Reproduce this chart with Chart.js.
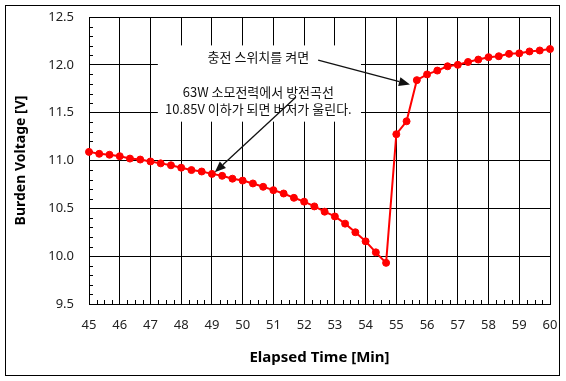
<!DOCTYPE html>
<html>
<head>
<meta charset="utf-8">
<script src="https://cdn.jsdelivr.net/npm/chart.js@4/dist/chart.umd.min.js"></script>
<style>
html,body{margin:0;padding:0;background:#fff;}
canvas{display:block;}
</style>
</head>
<body>
<canvas id="c" width="566" height="381"></canvas>
<script>
// Elapsed time [min] of each sample
const times = [45, 45.333, 45.667, 46, 46.333, 46.667, 47, 47.333, 47.667, 48, 48.333, 48.667,
  49, 49.333, 49.667, 50, 50.333, 50.667, 51, 51.333, 51.667, 52, 52.333, 52.667,
  53, 53.333, 53.667, 54, 54.333, 54.667, 55, 55.333, 55.667, 56, 56.333, 56.667,
  57, 57.333, 57.667, 58, 58.333, 58.667, 59, 59.333, 59.667, 60];
// Burden voltage [V]
const voltages = [11.09, 11.07, 11.06, 11.045, 11.02, 11.01, 10.99, 10.97, 10.95, 10.925, 10.90, 10.885,
  10.86, 10.84, 10.81, 10.79, 10.76, 10.725, 10.69, 10.655, 10.61, 10.57, 10.52, 10.465,
  10.415, 10.34, 10.25, 10.155, 10.04, 9.93, 11.275, 11.41, 11.84, 11.90, 11.94, 11.985,
  12.00, 12.03, 12.055, 12.08, 12.09, 12.115, 12.12, 12.14, 12.15, 12.165];

const xTitle = 'Elapsed Time [Min]';
const yTitle = 'Burden Voltage [V]';
const noteSwitch = '충전 스위치를 켜면';
const noteCurve = ['63W 소모전력에서 방전곡선', '10.85V 이하가 되면 버저가 울린다.'];

const annoPlugin = {
  id: 'anno',
  beforeDatasetsDraw(chart) {
    const {ctx, scales: {x, y}} = chart;
    ctx.save();
    // white label background over the grid
    const bx0 = x.getPixelForValue(47.24), bx1 = x.getPixelForValue(53.85);
    const by0 = y.getPixelForValue(12.203), by1 = y.getPixelForValue(11.406);
    ctx.fillStyle = '#fff';
    ctx.fillRect(bx0, by0, bx1 - bx0, by1 - by0);
    // inner minor ticks
    ctx.strokeStyle = '#000';
    ctx.lineWidth = 1;
    ctx.beginPath();
    for (let k = 1; k < 30; k++) {
      if (k % 5 === 0) continue;
      const py = Math.round(y.getPixelForValue(9.5 + k * 0.1)) + 0.5;
      ctx.moveTo(x.left, py); ctx.lineTo(x.left + 4, py);
    }
    for (let k = 1; k < 60; k++) {
      if (k % 4 === 0) continue;
      const px = Math.round(x.getPixelForValue(45 + k * 0.25)) + 0.5;
      ctx.moveTo(px, y.bottom); ctx.lineTo(px, y.bottom - 4);
    }
    ctx.stroke();
    ctx.restore();
  },
  afterDatasetsDraw(chart) {
    const {ctx, scales: {x, y}} = chart;
    ctx.save();
    ctx.font = '13px "Noto Sans CJK KR"';
    ctx.fillStyle = '#111';
    ctx.textAlign = 'center';
    ctx.textBaseline = 'middle';
    ctx.fillText(noteSwitch, x.getPixelForValue(50.51), y.getPixelForValue(12.082));
    ctx.fillText(noteCurve[0], x.getPixelForValue(50.51), y.getPixelForValue(11.716));
    ctx.fillText(noteCurve[1], x.getPixelForValue(50.51), y.getPixelForValue(11.541));
    const arrow = (xa, ya, xb, yb) => {
      const p0 = [x.getPixelForValue(xa), y.getPixelForValue(ya)];
      const p1 = [x.getPixelForValue(xb), y.getPixelForValue(yb)];
      const ang = Math.atan2(p1[1] - p0[1], p1[0] - p0[0]);
      const L = 11, W = 4.5;
      const bx = p1[0] - L * Math.cos(ang), by = p1[1] - L * Math.sin(ang);
      ctx.strokeStyle = '#111';
      ctx.lineWidth = 1.3;
      ctx.beginPath(); ctx.moveTo(p0[0], p0[1]); ctx.lineTo(bx, by); ctx.stroke();
      ctx.fillStyle = '#111';
      ctx.beginPath();
      ctx.moveTo(p1[0], p1[1]);
      ctx.lineTo(bx + W * Math.sin(ang), by - W * Math.cos(ang));
      ctx.lineTo(bx - W * Math.sin(ang), by + W * Math.cos(ang));
      ctx.closePath(); ctx.fill();
    };
    arrow(52.457, 12.048, 55.443, 11.794);
    arrow(51.73, 11.661, 49.093, 10.877);
    ctx.restore();
  },
  afterDraw(chart) {
    const ctx = chart.ctx;
    ctx.save();
    ctx.strokeStyle = '#000';
    ctx.lineWidth = 1;
    ctx.strokeRect(5.5, 5.5, 554, 370);
    ctx.restore();
  }
};

const tickFont = {family: '"Noto Sans", sans-serif', size: 13};
const yTitleFont = {family: '"Noto Sans", sans-serif', size: 14, weight: 'bold'};
const xTitleFont = {family: '"Noto Sans", sans-serif', size: 15, weight: 'bold'};

new Chart(document.getElementById('c'), {
  type: 'line',
  data: {
    datasets: [{
      data: times.map((t, i) => ({x: t, y: voltages[i]})),
      borderColor: '#ff0000',
      backgroundColor: '#ff0000',
      borderWidth: 2,
      pointRadius: 3.5,
      pointBorderWidth: 1,
      pointBorderColor: '#ff0000',
      pointBackgroundColor: '#ff0000',
      tension: 0,
      clip: false
    }]
  },
  options: {
    responsive: false,
    animation: false,
    devicePixelRatio: 1,
    layout: {autoPadding: false, padding: {left: 0, top: 17, right: 16, bottom: 0}},
    plugins: {legend: {display: false}, tooltip: {enabled: false}},
    scales: {
      x: {
        type: 'linear', min: 45, max: 60,
        afterFit: s => { s.height = 77; s.paddingLeft = 0; s.paddingRight = 0; },
        ticks: {stepSize: 1, color: '#222', font: tickFont, padding: 13, maxRotation: 0, autoSkip: false},
        grid: {color: '#000', lineWidth: 1, drawTicks: false},
        border: {color: '#000', width: 1},
        title: {display: true, text: xTitle, color: '#000', font: xTitleFont, padding: {top: 0, bottom: 14}}
      },
      y: {
        type: 'linear', min: 9.5, max: 12.5,
        afterFit: s => { s.width = 89; s.paddingTop = 0; s.paddingBottom = 0; },
        ticks: {stepSize: 0.5, color: '#222', font: tickFont, padding: 15, callback: v => Number(v).toFixed(1)},
        grid: {color: '#000', lineWidth: 1, drawTicks: false},
        border: {color: '#000', width: 1},
        title: {display: true, text: yTitle, color: '#000', font: yTitleFont, padding: {top: 13, bottom: 0}}
      }
    }
  },
  plugins: [annoPlugin]
});
</script>
</body>
</html>
